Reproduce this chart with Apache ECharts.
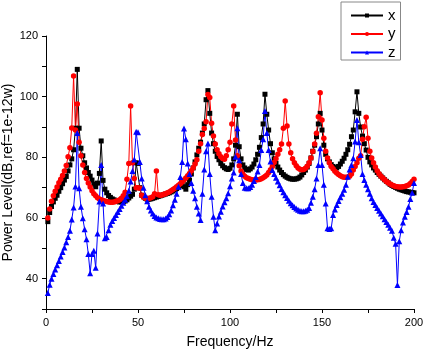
<!DOCTYPE html>
<html>
<head>
<meta charset="utf-8">
<script src="https://cdn.jsdelivr.net/npm/echarts@6/dist/echarts.min.js"></script>
<style>
html,body{margin:0;padding:0;background:#fff;}
#chart{width:425px;height:353px;}
</style>
</head>
<body>
<div id="chart"></div>
<script>
// Power level (dB) sampled at 1 Hz steps, 1..200 Hz
var seriesNames = ['x', 'y', 'z'];
var xValues = [
58.8,61.8,63.8,65.3,66.5,67.5,68.8,70,71.3,72.5,
73.7,75.5,77.5,79.5,82.5,89.6,109,89.6,83,80.5,
78.2,76.5,75,73.8,72.5,71.2,70.3,71.5,74.7,85.4,
72.4,69.5,68.3,67.4,66.8,66.3,66,65.6,65.4,65.3,
65.3,65.4,65.6,66,66.6,67.2,67.8,69.5,78.2,78,
70,67.5,67,66.5,66.2,66.2,66.3,66.5,66.7,66.9,
67.1,67.3,67.5,67.7,67.9,68.1,68.3,68.6,68.9,69.3,
69.7,70.2,70.7,70.8,70.3,69.5,71,72.5,74.5,76.5,
78.5,80.8,83,85,88,91,99,102,94.5,88,
84.5,82,80.3,79.2,78,77.2,76.6,76.2,76,76.4,
77.5,79.5,84,94.2,83.5,79.5,77.5,76.5,76,75.8,
76.2,76.8,77.8,79.2,81,83.3,86.5,91,100.8,94.2,
89,84.5,81.5,79.5,78,76.8,75.8,75,74.3,73.8,
73.4,73.1,72.9,72.8,72.8,72.9,73.1,73.5,74.2,75,
75.8,76.8,78,79.8,82,84,86.8,91,94.5,89,
84,81,79.5,78.5,77.6,77,76.6,76.5,77,77.8,
78.7,79.7,81,82.5,84.3,86.8,89,95,101.6,94.5,
90,87,84.5,82.4,80,78.5,77.5,76.5,75.8,75,
74.4,73.8,73.2,72.6,72.1,71.6,71.1,70.7,70.4,70.1,
69.8,69.5,69.3,69.1,68.9,68.7,68.6,68.5,68.4,68.3
];
var yValues = [
60,63,65.5,67.3,68.8,70.2,71.6,72.8,74,75.5,
77.3,80.2,83.2,89.7,106.8,89,97.6,85,80.5,77.5,
75,73,71.5,70.2,69,68,67.3,66.7,66.3,66,
65.8,65.6,65.4,65.3,65.2,65.2,65.3,65.5,65.7,66,
66.5,67.3,68.5,72.8,78,96.9,78.2,73,70,70,
69.8,67.5,66.8,66.5,66.4,66.5,66.7,67,68,75.5,
67.7,67.5,67.6,67.8,68,68.3,68.6,69,69.4,69.8,
70.3,70.8,71.3,71.9,72.5,73.2,73.9,74.7,75.6,76.6,
77.8,79.2,82,84.5,87.5,89.5,91.7,100.7,99.7,91.2,
87,84.4,82.5,81.2,80.2,79.6,79.4,80.5,82.5,85,
91,96.9,85.7,80.5,77.2,75.5,74.5,73.8,73.3,73,
72.8,72.6,72.5,72.5,72.6,72.7,72.9,73.3,73.7,74.2,
75,75.9,77,78.3,79.5,81,82.5,84.4,89.6,98.6,
90.3,84.4,81.5,79.5,78.2,77.2,76.5,76.1,75.9,76,
76.4,77.1,78.2,79.8,81.9,84.4,87.9,93.4,101.3,92.3,
86.3,82,79.8,78.2,77,76.2,75.4,74.8,74.3,73.9,
73.6,73.4,73.4,73.5,73.8,74.5,75.8,77,78.2,79.7,
80.5,86,90.1,93.2,86.3,82,79.8,78.2,76.8,75.6,
74.6,73.8,73.2,72.6,72,71.6,71.2,70.9,70.6,70.4,
70.3,70.2,70.2,70.3,70.4,70.6,70.9,71.4,72,72.8
];
var zValues = [
35.3,38,40,41.5,43,44.4,45.8,47.3,48.8,50.3,
52,53.7,55.8,59.5,63.5,70.4,88,69.8,63.7,59.9,
56.3,53,48.1,41.8,48.1,49.2,43.6,54.9,65.4,77.5,
64.8,53.3,53.7,56,57.8,59,60,61,62,63,
64,65,66,67.2,69,72,75.5,79.3,88.4,88.3,
78.5,73,70,67.5,65.5,63.7,62.5,61.5,60.7,60.2,
59.9,59.7,59.6,59.6,59.8,60.3,61.2,62.5,64.2,66,
68,70.3,73.5,78.5,89.5,86,78,74.5,71.5,69,
66.5,63.7,61.5,59.3,68,76,82,84.6,74.5,67,
60.4,56,58.2,60.5,62.1,63.8,65.2,66.5,68.2,70.5,
73,75,80.2,89.6,79,74.5,71.5,70,69.8,69.8,
70.2,71,72.2,73.5,75.3,77.5,82.4,86,95.3,88,
82.4,78.6,75.8,74.5,73.3,72,70.8,69.6,68.5,67.5,
66.6,65.7,64.9,64.2,63.6,63.1,62.7,62.4,62.2,62.2,
62.4,62.7,63.3,65,67,69.5,73,77.5,83,77.5,
71,64.8,56.6,56.4,56.6,61,62.8,64.3,65.6,66.8,
68,69.3,71,73.6,76,77.5,79.7,85.2,92.3,85,
80.8,74.5,72.5,71,69.5,68,66.5,65.3,64.3,63.3,
62.4,61.5,60.6,59.6,58.7,57.8,56.8,55.8,53.5,51.5,
37.9,52.3,56,58.5,60.4,62,63.7,66.3,68.3,71.5
];
var xTickLabels = ['0', '50', '100', '150', '200'];
var yTickLabels = ['40', '60', '80', '100', '120'];

function pairs(vals) {
  return vals.map(function (v, i) { return [i + 1, v]; });
}

var FONT = '"Liberation Sans", Arial, sans-serif';
var chart = echarts.init(document.getElementById('chart'), null, {renderer: 'canvas'});
chart.setOption({
  animation: false,
  backgroundColor: '#fff',
  grid: {left: 46, right: 11, top: 36, bottom: 44, containLabel: false, outerBoundsMode: 'none'},
  legend: {
    orient: 'vertical',
    left: 341, top: 2,
    padding: [6, 5, 0, 9],
    itemGap: 3.5,
    itemWidth: 32, itemHeight: 5,
    borderColor: '#888', borderWidth: 1,
    textStyle: {fontFamily: FONT, fontSize: 15, color: '#000', lineHeight: 14},
    data: seriesNames
  },
  xAxis: {
    type: 'value', min: 0, max: 200, interval: 25,
    name: 'Frequency/Hz', nameLocation: 'middle', nameGap: 26, nameMoveOverlap: false,
    nameTextStyle: {fontFamily: FONT, fontSize: 14, color: '#000'},
    axisLine: {show: true, onZero: false, lineStyle: {color: '#000', width: 1}},
    axisTick: {show: true, inside: false, length: 4, lineStyle: {color: '#000'}},
    axisLabel: {
      fontFamily: FONT, fontSize: 11, color: '#000', margin: 8,
      formatter: function (v) { return xTickLabels.indexOf(String(v)) >= 0 ? String(v) : ''; }
    },
    splitLine: {show: false}
  },
  yAxis: {
    type: 'value', min: 30, max: 120, interval: 10,
    name: 'Power Level(dB,ref=1e-12w)', nameLocation: 'middle', nameGap: 31, nameMoveOverlap: false,
    nameTextStyle: {fontFamily: FONT, fontSize: 14, color: '#000'},
    axisLine: {show: true, onZero: false, lineStyle: {color: '#000', width: 1}},
    axisTick: {show: true, inside: false, length: 4, lineStyle: {color: '#000'}},
    axisLabel: {
      fontFamily: FONT, fontSize: 11, color: '#000', margin: 8,
      formatter: function (v) { return yTickLabels.indexOf(String(v)) >= 0 ? String(v) : ''; }
    },
    splitLine: {show: false}
  },
  series: [
    {name: 'x', type: 'line', data: pairs(xValues), symbol: 'rect', symbolSize: 5,
     color: '#000000', lineStyle: {width: 1, color: '#000000'}, itemStyle: {color: '#000000'}},
    {name: 'y', type: 'line', data: pairs(yValues), symbol: 'circle', symbolSize: 5.5,
     color: '#ff0000', lineStyle: {width: 1, color: '#ff0000'}, itemStyle: {color: '#ff0000'}},
    {name: 'z', type: 'line', data: pairs(zValues), symbol: 'triangle', symbolSize: 6,
     color: '#0000ff', lineStyle: {width: 1, color: '#0000ff'}, itemStyle: {color: '#0000ff'}}
  ]
});
</script>
</body>
</html>
